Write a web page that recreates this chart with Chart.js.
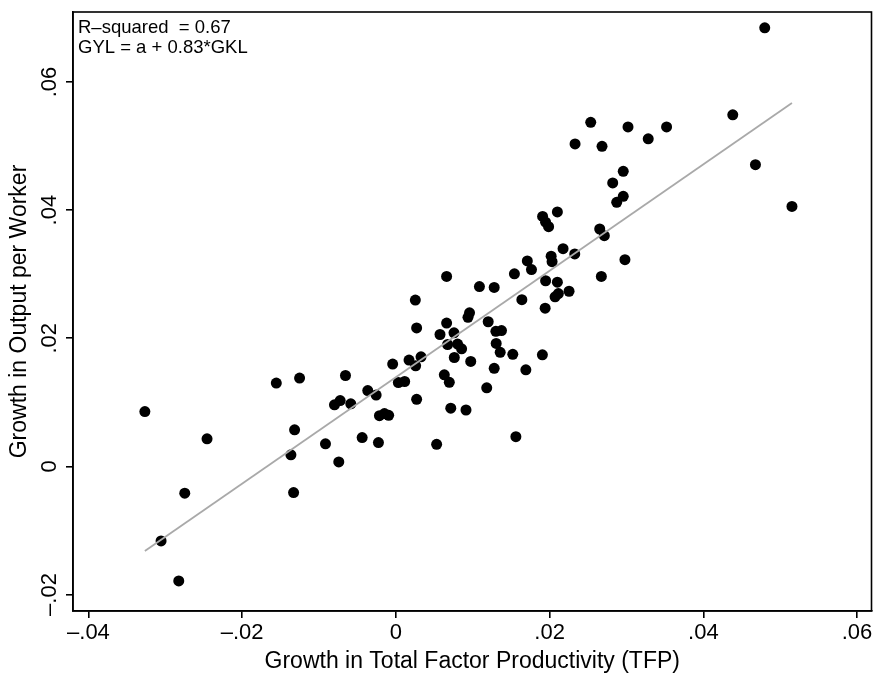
<!DOCTYPE html>
<html>
<head>
<meta charset="utf-8">
<script src="https://cdn.jsdelivr.net/npm/chart.js@4.4.0/dist/chart.umd.min.js"></script>
<style>
  html, body { margin: 0; padding: 0; background: #fff; }
  #wrap { width: 877px; height: 675px; }
</style>
</head>
<body>
<div id="wrap"><canvas id="chart" width="877" height="675"></canvas></div>
<script>
// growth in TFP (x) and growth in output per worker (y)
const tfp = [
  -0.03266, -0.03055, -0.02825, -0.02747, -0.02457, -0.01556, -0.01253, -0.01318, -0.01366, -0.01331,
  -0.00916, -0.00743, -0.00799, -0.00725, -0.00587, -0.00656, -0.00439, -0.00366, -0.00257, -0.00227,
  -0.00214, -0.00149, -0.00094, -0.00042, 0.00032, 0.00114, 0.00171, 0.00257, 0.00327, 0.00253,
  0.0027, 0.0027, 0.0053, 0.00574, 0.0063, 0.0066, 0.0066, 0.00673, 0.00695, 0.00714,
  0.00756, 0.0076, 0.00803, 0.00855, 0.00912, 0.00938, 0.00958, 0.00974, 0.01087, 0.01182,
  0.01201, 0.01279, 0.01279, 0.01301, 0.01374, 0.01305, 0.01357, 0.01521, 0.01542, 0.01561,
  0.01639, 0.01691, 0.0171, 0.01764, 0.01906, 0.01909, 0.01948, 0.01987, 0.01948, 0.01942,
  0.0202, 0.02032, 0.02071, 0.02114, 0.02101, 0.02101, 0.02175, 0.02253, 0.02327, 0.02331,
  0.02535, 0.02652, 0.02712, 0.02673, 0.02682, 0.02821, 0.02873, 0.02958, 0.02958, 0.0298,
  0.0302, 0.03283, 0.03522, 0.04383, 0.04678, 0.04799, 0.05153
];
const gyl = [
  0.00856, -0.01164, -0.01789, -0.00419, 0.0043, 0.013, 0.01378, 0.0057, 0.0018, -0.00409,
  0.00352, 0.0007, 0.00961, 0.01028, 0.00977, 0.01419, 0.0045, 0.01183, 0.01113, 0.00372,
  0.00792, 0.00825, 0.00797, 0.01597, 0.01309, 0.01325, 0.01659, 0.0157, 0.01711, 0.02597,
  0.02161, 0.01047, 0.00344, 0.02059, 0.0143, 0.02966, 0.02238, 0.01903, 0.01313, 0.00909,
  0.02086, 0.017, 0.01909, 0.01836, 0.0088, 0.02328, 0.02398, 0.01638, 0.02808, 0.01227,
  0.02258, 0.02794, 0.01531, 0.02109, 0.0212, 0.0192, 0.0178, 0.0175, 0.03006, 0.00464,
  0.02602, 0.01508, 0.03208, 0.03073, 0.01742, 0.03903, 0.03813, 0.03742, 0.02898, 0.02469,
  0.03281, 0.03195, 0.02648, 0.02698, 0.02875, 0.03972, 0.03398, 0.02734, 0.03317, 0.05034,
  0.05372, 0.03706, 0.03602, 0.02966, 0.04997, 0.04425, 0.04122, 0.04606, 0.04216, 0.03227,
  0.053, 0.05114, 0.053, 0.05488, 0.04711, 0.06847, 0.04059
];

// fitted line GYL = a + 0.83*GKL, drawn over the data range
const fitX = [-0.03266, 0.05153];
const fitY = [-0.0132, 0.05675];

const xTicks = [-0.04, -0.02, 0, 0.02, 0.04, 0.06];
const xTickLabels = ['–.04', '–.02', '0', '.02', '.04', '.06'];
const yTicks = [-0.02, 0, 0.02, 0.04, 0.06];
const yTickLabels = ['–.02', '0', '.02', '.04', '.06'];
const notes = ['R–squared  = 0.67', 'GYL = a + 0.83*GKL'];

const FONT = "'Liberation Sans', Arial, Helvetica, sans-serif";

const stataExtras = {
  id: 'stataExtras',
  afterDraw(chart) {
    const ctx = chart.ctx;
    const area = chart.chartArea;
    const yScale = chart.scales.y;
    ctx.save();
    // box around the plot region
    ctx.strokeStyle = '#000';
    ctx.lineWidth = 1.6;
    ctx.strokeRect(area.left, area.top, area.right - area.left, area.bottom - area.top);

    // vertical tick labels on the y axis
    ctx.fillStyle = '#000';
    ctx.font = '22px ' + FONT;
    ctx.textAlign = 'center';
    ctx.textBaseline = 'alphabetic';
    yTicks.forEach((v, i) => {
      const py = yScale.getPixelForValue(v);
      ctx.save();
      ctx.translate(56, py);
      ctx.rotate(-Math.PI / 2);
      ctx.fillText(yTickLabels[i], 0, 0);
      ctx.restore();
    });

    // fit notes in the top-left corner
    ctx.font = '18.5px ' + FONT;
    ctx.textAlign = 'left';
    notes.forEach((t, i) => {
      ctx.fillText(t, area.left + 5, area.top + 21 + i * 20);
    });
    ctx.restore();
  }
};

new Chart(document.getElementById('chart'), {
  type: 'scatter',
  data: {
    datasets: [
      {
        type: 'line',
        data: fitX.map((x, i) => ({ x: x, y: fitY[i] })),
        borderColor: '#a9a9a9',
        borderWidth: 1.8,
        pointRadius: 0,
        fill: false,
        order: 0
      },
      {
        data: tfp.map((x, i) => ({ x: x, y: gyl[i] })),
        backgroundColor: '#000',
        borderWidth: 0,
        pointRadius: 5.5,
        order: 1
      }
    ]
  },
  options: {
    responsive: false,
    animation: false,
    layout: { padding: { top: 12, right: 4, bottom: 0, left: 0 } },
    plugins: {
      legend: { display: false },
      tooltip: { enabled: false }
    },
    scales: {
      x: {
        type: 'linear',
        min: -0.04201,
        max: 0.06188,
        afterBuildTicks: s => { s.ticks = xTicks.map(v => ({ value: v })); },
        afterFit: s => { s.height = 64; },
        ticks: {
          callback: (v, i) => xTickLabels[i],
          font: { family: FONT, size: 22 },
          color: '#000',
          padding: 2,
          maxRotation: 0,
          autoSkip: false
        },
        grid: { drawOnChartArea: false, drawTicks: true, tickLength: 7, color: '#000', lineWidth: 1.6 },
        border: { display: true, color: '#000', width: 1.6 },
        title: {
          display: true,
          text: 'Growth in Total Factor Productivity (TFP)',
          font: { family: FONT, size: 23 },
          color: '#000',
          padding: { top: 0, bottom: 0 }
        }
      },
      y: {
        type: 'linear',
        min: -0.02258,
        max: 0.07094,
        afterBuildTicks: s => { s.ticks = yTicks.map(v => ({ value: v })); },
        afterFit: s => { s.width = 73; },
        ticks: { display: false },
        grid: { drawOnChartArea: false, drawTicks: true, tickLength: 7, color: '#000', lineWidth: 1.6 },
        border: { display: true, color: '#000', width: 1.6 },
        title: {
          display: true,
          text: 'Growth in Output per Worker',
          font: { family: FONT, size: 23 },
          color: '#000',
          padding: { top: 6, bottom: 0 }
        }
      }
    }
  },
  plugins: [stataExtras]
});
</script>
</body>
</html>
